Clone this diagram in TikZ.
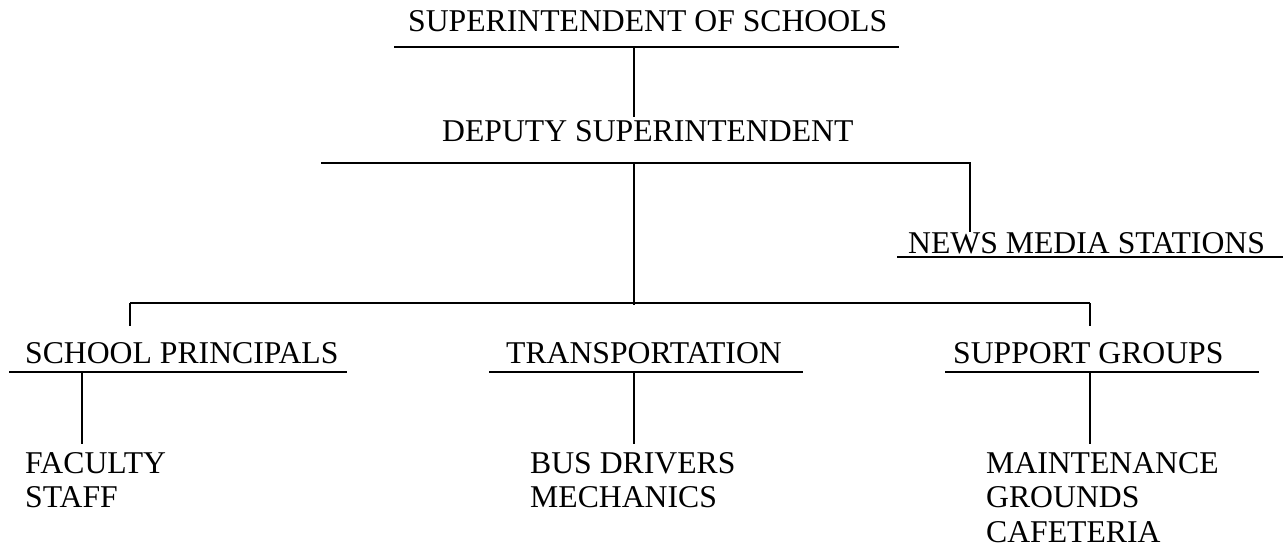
\documentclass[tikz,border=0pt]{standalone}
\usepackage{fontspec}
\setmainfont{Liberation Serif}
\begin{document}
\begin{tikzpicture}[x=1pt,y=-1pt,
  lbl/.style={anchor=base west, inner sep=0pt, font=\fontsize{31.7}{34.5}\selectfont},
  rule/.style={line width=1.8pt, line cap=rect},
  link/.style={line width=1.8pt}]
\useasboundingbox (0,0) rectangle (1284,548);

% ---- text ----
\node[lbl] (sup)   at (408,32)    {SUPERINTENDENT OF SCHOOLS};
\node[lbl] (dep)   at (442,142)   {DEPUTY SUPERINTENDENT};
\node[lbl] (news)  at (908,253)   {NEWS MEDIA STATIONS};
\node[lbl] (sp)    at (25,363)    {SCHOOL PRINCIPALS};
\node[lbl] (tr)    at (506,363)   {TRANSPORTATION};
\node[lbl] (sg)    at (953,363)   {SUPPORT GROUPS};
\node[lbl] (fac)   at (25,473)    {FACULTY};
\node[lbl] (staff) at (25,507.5)  {STAFF};
\node[lbl] (bus)   at (530,473)   {BUS DRIVERS};
\node[lbl] (mech)  at (530,507.5) {MECHANICS};
\node[lbl] (mnt)   at (986,473)   {MAINTENANCE};
\node[lbl] (grd)   at (986,507.5) {GROUNDS};
\node[lbl] (caf)   at (986,542)   {CAFETERIA};

% ---- underlines ----
\coordinate (supL) at (395,47);   \coordinate (supR) at (898,47);
\coordinate (depL) at (322,163);  \coordinate (depR) at (970,163);
\coordinate (newsL) at (898,257); \coordinate (newsR) at (1282,257);
\coordinate (spL) at (10,372);    \coordinate (spR) at (346,372);
\coordinate (trL) at (490,372);   \coordinate (trR) at (802,372);
\coordinate (sgL) at (946,372);   \coordinate (sgR) at (1258,372);
\draw[rule] (supL) -- (supR);
\draw[rule] (depL) -- (depR);
\draw[rule] (newsL) -- (newsR);
\draw[rule] (spL) -- (spR);
\draw[rule] (trL) -- (trR);
\draw[rule] (sgL) -- (sgR);

% ---- junction points ----
\coordinate (supC)  at (634,47);
\coordinate (depTop) at (634,117);
\coordinate (depC)  at (634,163);
\coordinate (barC)  at (634,305);
\coordinate (barL)  at (130,303);
\coordinate (barR)  at (1090,303);
\coordinate (newsTop) at (970,232);
\coordinate (spTop) at (130,326);
\coordinate (sgTop) at (1090,326);
\coordinate (spC) at (82,372);   \coordinate (facTop) at (82,444);
\coordinate (trC) at (634,372);  \coordinate (busTop) at (634,444);
\coordinate (sgC) at (1090,372); \coordinate (mntTop) at (1090,444);

% ---- connectors ----
\draw[link] (supC) -- (depTop);
\draw[link] (depC) -- (barC);
\draw[link] (depR) -- (newsTop);
\draw[link] (barL) -- (barR);
\draw[link] (barL) -- (spTop);
\draw[link] (barR) -- (sgTop);
\draw[link] (spC) -- (facTop);
\draw[link] (trC) -- (busTop);
\draw[link] (sgC) -- (mntTop);
\end{tikzpicture}
\end{document}
